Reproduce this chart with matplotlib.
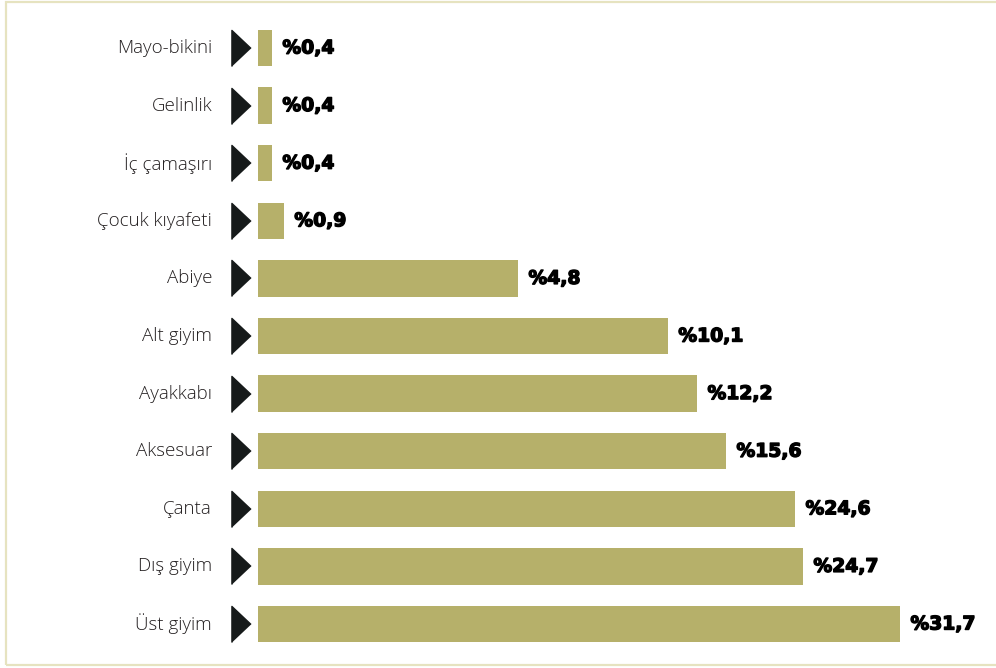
import numpy as np
import matplotlib
matplotlib.use("Agg")
import matplotlib.pyplot as plt
import matplotlib.patheffects as pe
from matplotlib.patches import Rectangle
from matplotlib.transforms import ScaledTranslation, blended_transform_factory

# categories, top to bottom
categories = ["Mayo-bikini", "Gelinlik", "İç çamaşırı", "Çocuk kıyafeti", "Abiye",
              "Alt giyim", "Ayakkabı", "Aksesuar", "Çanta", "Dış giyim", "Üst giyim"]
values = [0.4, 0.4, 0.4, 0.9, 4.8, 10.1, 12.2, 15.6, 24.6, 24.7, 31.7]
# the original graphic does not draw bars to scale; drawn lengths
bar_len = [0.69, 0.69, 0.69, 1.28, 12.84, 20.24, 21.68, 23.11, 26.52, 26.91, 31.7]
value_labels = ["%0,4", "%0,4", "%0,4", "%0,9", "%4,8", "%10,1", "%12,2",
                "%15,6", "%24,6", "%24,7", "%31,7"]

BAR_COLOR = "#b6b06a"
W, H = 996, 668
DPI = 100

fig = plt.figure(figsize=(W / DPI, H / DPI), dpi=DPI)
fig.patch.set_facecolor("white")

# light olive frame round the graphic
fig.patches.append(Rectangle((6 / W, 3 / H), 1.2, (663) / H, transform=fig.transFigure,
                             fill=False, edgecolor="#e6e3c0", linewidth=1.6))

ax_left = 258 / W
ax_w = 700 / W
row_px = 57.6
ax_h = len(categories) * row_px / H
ax_bottom = (H - 624 - row_px / 2) / H
ax = fig.add_axes([ax_left, ax_bottom, ax_w, ax_h])
ax.set_axis_off()

y = np.arange(len(categories))
ax.barh(y, bar_len, height=0.63, color=BAR_COLOR, edgecolor="none")
ax.set_xlim(0, 31.7 * 700 / 642)
ax.set_ylim(len(categories) - 0.5, -0.5)

# triangles and category labels placed relative to the axes' left edge
tri_tr = blended_transform_factory(ax.transAxes, ax.transData) + \
    ScaledTranslation(-17.5 / DPI, 0, fig.dpi_scale_trans)
tri = [(-0.53, -1.0), (-0.53, 1.0), (0.53, 0.0)]
ax.plot(np.zeros(len(y)), y, linestyle="none", marker=tri, markersize=26,
        color="#161a1a", transform=tri_tr, clip_on=False)

lab_tr = blended_transform_factory(ax.transAxes, ax.transData) + \
    ScaledTranslation(-46 / DPI, 0, fig.dpi_scale_trans)
for yi, cat in zip(y, categories):
    ax.text(0, yi, cat, transform=lab_tr, ha="right", va="center",
            fontsize=13.5, family="Open Sans", fontweight="light", color="#231f20")

heavy = [pe.withStroke(linewidth=1.0, foreground="black")]
for yi, bl, lab in zip(y, bar_len, value_labels):
    ax.annotate(lab, (bl, yi), xytext=(7.5, 0), textcoords="offset points",
                ha="left", va="center", fontsize=13.5, family="DejaVu Sans",
                fontweight="bold", color="black", path_effects=heavy)

fig.savefig("out.png", dpi=DPI)
